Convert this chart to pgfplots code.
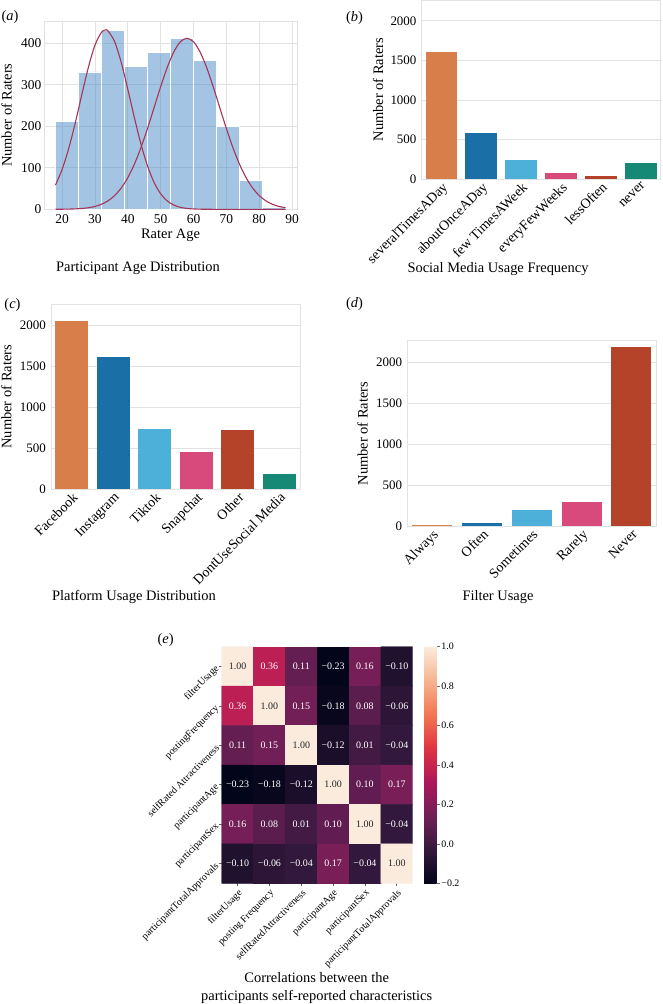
\documentclass[border=0pt]{standalone}
\usepackage{pgfplots}
\pgfplotsset{compat=1.18}
\usepackage{fontspec}
\setmainfont{Liberation Serif}

\definecolor{gridc}{RGB}{226,226,226}
\definecolor{histc}{RGB}{74,138,201}
\definecolor{curvec}{RGB}{166,52,84}
\definecolor{cA}{RGB}{215,126,74}
\definecolor{cB}{RGB}{26,111,166}
\definecolor{cC}{RGB}{77,176,217}
\definecolor{cD}{RGB}{216,73,124}
\definecolor{cE}{RGB}{180,67,42}
\definecolor{cF}{RGB}{21,137,118}

\newcommand{\tickfont}{\fontsize{13}{15}\selectfont}
\newcommand{\catfont}{\fontsize{14}{16}\selectfont}
\newcommand{\labfont}{\fontsize{14.5}{17}\selectfont}
\newcommand{\hmfont}{\fontsize{10}{12}\selectfont}

\pgfplotsset{
  colormap={rocket}{rgb255=(3,5,26) rgb255=(53,25,62) rgb255=(112,31,87) rgb255=(173,23,89) rgb255=(225,51,66) rgb255=(243,118,81) rgb255=(246,180,143) rgb255=(250,235,221)},
  base/.style={scale only axis, anchor=north west,
    axis line style={draw=gridc, line width=0.8bp},
    grid style={draw=gridc, line width=0.8bp},
    major tick length=0pt, tick style={draw=none},
    tick label style={font=\tickfont},
    label style={font=\labfont},
    /pgf/number format/assume math mode=true,
    /pgf/number format/1000 sep={},
    scaled y ticks=false,
  },
  barax/.style={base, ymajorgrids, ymin=0, ymax=2260, xmin=-0.5, xmax=5.5,
    xtick={0,...,5}, ytick={0,500,...,2000},
    yticklabel style={inner sep=0pt, xshift=-5bp},
    xticklabel style={font=\catfont, rotate=45, anchor=north east, inner sep=1.5bp},
  },
}

\begin{document}
\begin{tikzpicture}
\useasboundingbox (0,0) rectangle (663bp,-1004bp);

% ---------------- (a)
\begin{axis}[base, at={(44bp,-21bp)}, width=253bp, height=188.3bp,
  xmin=14.5, xmax=91.5, ymin=0, ymax=453.6,
  xtick={20,30,...,90}, ytick={0,100,...,400},
  xmajorgrids, ymajorgrids,
  tick label style={font=\fontsize{13.5}{15}\selectfont},
  xticklabel style={inner sep=0pt, yshift=-5bp},
  yticklabel style={inner sep=0pt, xshift=-2.5bp},
  xlabel={Rater Age}, ylabel={Number of Raters},
  xlabel style={at={(axis description cs:0.5,-0.136)}, anchor=center},
  ylabel style={at={(axis description cs:-0.148,0.5)}, anchor=center}]
\addplot[ybar interval, fill=histc, fill opacity=0.5, draw=white, line width=0.6bp]
  coordinates {(18,212) (25,331) (32,431) (39,345) (46,378) (53,412) (60,358) (67,200) (74,69) (81,6) (88,6)};
\addplot[curvec, line width=1.1bp, smooth] coordinates {
  (18,58.5) (20,95.6) (22,145.8) (24,207.6) (26,275.8) (28,341.8) (30,395.3) (32,426.6) (33.2,432)
  (34,429.6) (36,403.6) (38,353.9) (40,289.5) (42,221.0) (44,157.4) (46,104.6) (48,64.8) (50,37.5)
  (52,20.2) (54,10.2) (56,4.8) (58,2.1) (60,0.9) (62,0.3) (64,0.1) (66,0) (70,0) (74,0) (78,0) (82,0) (86,0) (88,0)};
\addplot[curvec, line width=1.1bp, smooth] coordinates {
  (18,0.1) (20,0.2) (22,0.5) (24,1.0) (26,2.0) (28,3.8) (30,6.9) (32,12.2) (34,20.5) (36,33.1) (38,51.3)
  (40,76.2) (42,108.6) (44,148.4) (46,194.6) (48,244.8) (50,295.2) (52,341.6) (54,379.0) (56,403.5) (58,412)
  (60,403.5) (62,379.0) (64,341.6) (66,295.2) (68,244.8) (70,194.6) (72,148.4) (74,108.6) (76,76.2)
  (78,51.3) (80,33.1) (82,20.5) (84,12.2) (86,6.9) (88,3.8)};
\end{axis}

% ---------------- (b)
\begin{axis}[barax, at={(421.6bp,-0.3bp)}, width=239bp, height=178.7bp,
  xticklabels={severalTimesADay,aboutOnceADay,few TimesAWeek,everyFewWeeks,lessOften,never},
  ylabel={Number of Raters},
  ylabel style={at={(axis description cs:-0.182,0.5)}, anchor=center}]
\addplot[ybar, bar width=0.8, bar shift=0pt, fill=cA, draw=none] coordinates {(0,1600)};
\addplot[ybar, bar width=0.8, bar shift=0pt, fill=cB, draw=none] coordinates {(1,588)};
\addplot[ybar, bar width=0.8, bar shift=0pt, fill=cC, draw=none] coordinates {(2,236)};
\addplot[ybar, bar width=0.8, bar shift=0pt, fill=cD, draw=none] coordinates {(3,72)};
\addplot[ybar, bar width=0.8, bar shift=0pt, fill=cE, draw=none] coordinates {(4,42)};
\addplot[ybar, bar width=0.8, bar shift=0pt, fill=cF, draw=none] coordinates {(5,198)};
\end{axis}

% ---------------- (c)
\begin{axis}[barax, at={(51bp,-304.3bp)}, width=249bp, height=185bp,
  xticklabels={Facebook,Instagram,Tiktok,Snapchat,Other,DontUseSocial Media},
  ylabel={Number of Raters},
  ylabel style={at={(axis description cs:-0.179,0.5)}, anchor=center}]
\addplot[ybar, bar width=0.8, bar shift=0pt, fill=cA, draw=none] coordinates {(0,2060)};
\addplot[ybar, bar width=0.8, bar shift=0pt, fill=cB, draw=none] coordinates {(1,1613)};
\addplot[ybar, bar width=0.8, bar shift=0pt, fill=cC, draw=none] coordinates {(2,739)};
\addplot[ybar, bar width=0.8, bar shift=0pt, fill=cD, draw=none] coordinates {(3,455)};
\addplot[ybar, bar width=0.8, bar shift=0pt, fill=cE, draw=none] coordinates {(4,720)};
\addplot[ybar, bar width=0.8, bar shift=0pt, fill=cF, draw=none] coordinates {(5,190)};
\end{axis}

% ---------------- (d)
\begin{axis}[barax, at={(407.3bp,-340.7bp)}, width=249bp, height=185.6bp,
  xmax=4.5, xtick={0,...,4},
  xticklabels={Always,Often,Sometimes,Rarely,Never},
  ylabel={Number of Raters},
  ylabel style={at={(axis description cs:-0.18,0.5)}, anchor=center}]
\addplot[ybar, bar width=0.8, bar shift=0pt, fill=cA, draw=none] coordinates {(0,18)};
\addplot[ybar, bar width=0.8, bar shift=0pt, fill=cB, draw=none] coordinates {(1,44)};
\addplot[ybar, bar width=0.8, bar shift=0pt, fill=cC, draw=none] coordinates {(2,198)};
\addplot[ybar, bar width=0.8, bar shift=0pt, fill=cD, draw=none] coordinates {(3,295)};
\addplot[ybar, bar width=0.8, bar shift=0pt, fill=cE, draw=none] coordinates {(4,2180)};
\end{axis}

% ---------------- (e)
\begin{axis}[scale only axis, anchor=north west, at={(221.7bp,-646.7bp)},
  width=191bp, height=236.6bp,
  xmin=-0.5, xmax=5.5, ymin=-0.5, ymax=5.5, y dir=reverse,
  axis line style={draw=none},
  xtick={0,...,5}, ytick={0,...,5},
  xticklabels={filterUsage,posting Frequency,selfRatedAttractiveness,participantAge,participantSex,participantTotalApprovals},
  yticklabels={filterUsage,postingFrequency,selfRated Attractiveness,participantAge,participantSex,participantTotalApprovals},
  tick align=outside, major tick length=3bp,
  tick style={draw=black!60, line width=0.6bp},
  xtick pos=left, ytick pos=left,
  tick label style={font=\hmfont},
  xticklabel style={rotate=45, anchor=north east, inner sep=1.5bp},
  yticklabel style={rotate=45, anchor=east, inner sep=1.5bp},
  colormap name=rocket, point meta min=-0.2, point meta max=1,
  colorbar,
  colorbar shift/.style={xshift=11.3bp},
  colorbar style={at={(parent axis.north east)}, anchor=north west,
    width=12.7bp, height=236.6bp, scale only axis,
    ytick={-0.2,0,0.2,0.4,0.6,0.8,1.0},
    yticklabels={−0.2,0.0,0.2,0.4,0.6,0.8,1.0},
    yticklabel style={font=\hmfont, inner sep=1.5bp},
    axis line style={draw=none}, ytick pos=right,
    tick align=outside, major tick length=3bp,
    tick style={draw=black!60, line width=0.6bp}}]
\addplot[matrix plot*, mesh/cols=6, point meta=explicit] coordinates {
  (0,0) [1.00] (1,0) [0.36] (2,0) [0.11] (3,0) [-0.23] (4,0) [0.16] (5,0) [-0.10]
  (0,1) [0.36] (1,1) [1.00] (2,1) [0.15] (3,1) [-0.18] (4,1) [0.08] (5,1) [-0.06]
  (0,2) [0.11] (1,2) [0.15] (2,2) [1.00] (3,2) [-0.12] (4,2) [0.01] (5,2) [-0.04]
  (0,3) [-0.23] (1,3) [-0.18] (2,3) [-0.12] (3,3) [1.00] (4,3) [0.10] (5,3) [0.17]
  (0,4) [0.16] (1,4) [0.08] (2,4) [0.01] (3,4) [0.10] (4,4) [1.00] (5,4) [-0.04]
  (0,5) [-0.10] (1,5) [-0.06] (2,5) [-0.04] (3,5) [0.17] (4,5) [-0.04] (5,5) [1.00]};
\addplot[draw=none, mark=none, point meta=explicit symbolic, nodes near coords,
  nodes near coords style={anchor=center, text=white, font=\hmfont}] coordinates {
  (1,0) [0.36] (2,0) [0.11] (3,0) [−0.23] (4,0) [0.16] (5,0) [−0.10]
  (0,1) [0.36] (2,1) [0.15] (3,1) [−0.18] (4,1) [0.08] (5,1) [−0.06]
  (0,2) [0.11] (1,2) [0.15] (3,2) [−0.12] (4,2) [0.01] (5,2) [−0.04]
  (0,3) [−0.23] (1,3) [−0.18] (2,3) [−0.12] (4,3) [0.10] (5,3) [0.17]
  (0,4) [0.16] (1,4) [0.08] (2,4) [0.01] (3,4) [0.10] (5,4) [−0.04]
  (0,5) [−0.10] (1,5) [−0.06] (2,5) [−0.04] (3,5) [0.17] (4,5) [−0.04]};
\addplot[draw=none, mark=none, point meta=explicit symbolic, nodes near coords,
  nodes near coords style={anchor=center, text=black!85, font=\hmfont}] coordinates {
  (0,0) [1.00] (1,1) [1.00] (2,2) [1.00] (3,3) [1.00] (4,4) [1.00] (5,5) [1.00]};
\end{axis}

% ---------------- captions and panel letters
\begin{scope}[font=\labfont]
\node[anchor=base] at (138bp,-271.5bp) {Participant Age Distribution};
\node[anchor=base] at (498bp,-272.5bp) {Social Media Usage Frequency};
\node[anchor=base] at (134bp,-600.5bp) {Platform Usage Distribution};
\node[anchor=base] at (498bp,-600.5bp) {Filter Usage};
\node[anchor=base] at (316.7bp,-982.7bp) {Correlations between the};
\node[anchor=base] at (316.7bp,-1000.7bp) {participants self-reported characteristics};
\node at (10bp,-17.5bp) {(\textit{a})};
\node at (354.5bp,-18bp) {(\textit{b})};
\node at (12.5bp,-305bp) {(\textit{c})};
\node at (354.5bp,-304bp) {(\textit{d})};
\node at (165.7bp,-640bp) {(\textit{e})};
\end{scope}
\end{tikzpicture}
\end{document}
